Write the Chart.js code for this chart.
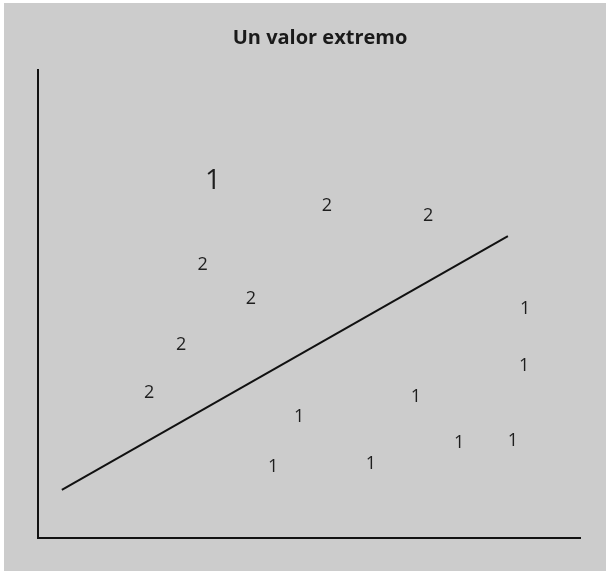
<!DOCTYPE html>
<html>
<head>
<meta charset="utf-8">
<script src="https://cdn.jsdelivr.net/npm/chart.js@4"></script>
<style>
  html, body { margin: 0; padding: 0; background: #ffffff; }
  #wrap { position: absolute; left: 4px; top: 3px; width: 602px; height: 568px; }
  #chart { background: #cccccc; }
</style>
</head>
<body>
<div id="wrap"><canvas id="chart" width="602" height="568"></canvas></div>
<script>
// group "2" (upper-left cloud)
const groupTwoX = [53.3, 72.0, 30.4, 39.3, 26.4, 20.5];
const groupTwoY = [70.9, 68.8, 58.3, 51.1, 41.2, 31.0];

// group "1" (lower-right cloud)
const groupOneX = [89.9, 89.7, 69.7, 48.2, 77.7, 87.6, 43.4, 61.4];
const groupOneY = [48.9, 36.8, 30.1, 25.9, 20.3, 20.7, 15.2, 15.8];

// the extreme value
const outlierX = [32.3];
const outlierY = [76.3];

// separating line
const lineX = [4.4, 86.7];
const lineY = [10.3, 64.5];

const toPoints = (xs, ys) => xs.map((x, i) => ({ x: x, y: ys[i] }));

(function() {
  try {
    // writes the class digit at every point of a dataset
    const textMarks = {
      id: 'textMarks',
      afterDatasetsDraw(chart) {
        const ctx = chart.ctx;
        chart.data.datasets.forEach((ds, i) => {
          if (!ds.markText) return;
          const meta = chart.getDatasetMeta(i);
          ctx.save();
          ctx.fillStyle = '#1e1e1e';
          ctx.font = ds.markFont;
          ctx.textAlign = 'center';
          ctx.textBaseline = 'middle';
          meta.data.forEach(pt => ctx.fillText(ds.markText, pt.x, pt.y));
          ctx.restore();
        });
      }
    };

    // the title sits a bit right of the canvas centre in the original
    const titleShift = {
      id: 'titleShift',
      afterLayout(chart) {
        if (chart.titleBlock) {
          chart.titleBlock.left += 11;
          chart.titleBlock.right += 11;
        }
      }
    };

    const axisStyle = {
      min: 0,
      max: 100,
      grid: { display: false, drawTicks: false },
      ticks: { display: false },
      border: { display: true, color: '#111111', width: 2 }
    };

    new Chart(document.getElementById('chart'), {
      type: 'scatter',
      data: {
        datasets: [
          {
            label: '2',
            data: toPoints(groupTwoX, groupTwoY),
            pointRadius: 0,
            markText: '2',
            markFont: '18px "Open Sans"'
          },
          {
            label: '1',
            data: toPoints(groupOneX, groupOneY),
            pointRadius: 0,
            markText: '1',
            markFont: '18px "Open Sans"'
          },
          {
            label: 'extremo',
            data: toPoints(outlierX, outlierY),
            pointRadius: 0,
            markText: '1',
            markFont: '28px "Open Sans"'
          },
          {
            label: 'recta',
            data: toPoints(lineX, lineY),
            showLine: true,
            pointRadius: 0,
            borderColor: '#111111',
            borderWidth: 2
          }
        ]
      },
      options: {
        responsive: false,
        animation: false,
        layout: { padding: { left: 34, right: 26, bottom: 33, top: 0 } },
        plugins: {
          legend: { display: false },
          tooltip: { enabled: false },
          title: {
            display: true,
            text: 'Un valor extremo',
            color: '#1a1a1a',
            font: { family: '"Open Sans"', size: 20, weight: 'bold' },
            padding: { top: 23, bottom: 20 }
          }
        },
        scales: {
          x: Object.assign({ type: 'linear', position: 'bottom' }, axisStyle),
          y: Object.assign({ type: 'linear', position: 'left' }, axisStyle)
        }
      },
      plugins: [textMarks, titleShift]
    });
  } catch (error) {
    console.error(error);
  }
})();
</script>
</body>
</html>
